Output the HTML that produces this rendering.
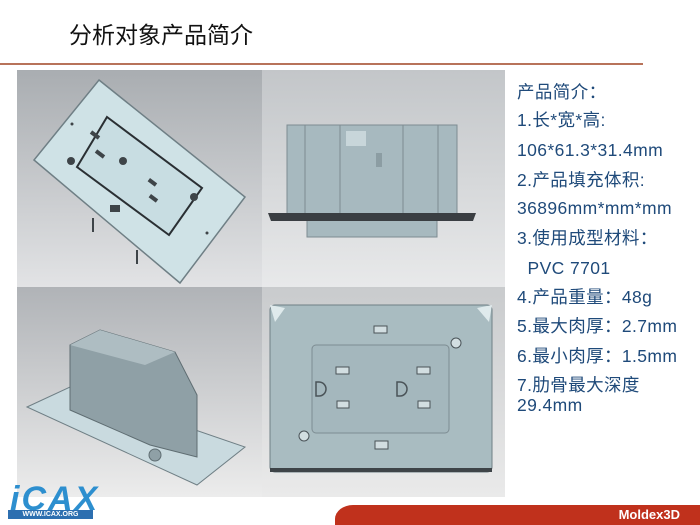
<!DOCTYPE html>
<html><head><meta charset="utf-8"><style>
html,body{margin:0;padding:0;width:700px;height:525px;overflow:hidden;background:#fff;font-family:"Liberation Sans","Noto Sans CJK SC",sans-serif}
.t{position:absolute;left:69px;top:20px;font-size:23px;line-height:30px;color:#111}
.rule{position:absolute;left:0;top:63px;width:643px;height:2px;background:#b8735a}
.txt{position:absolute;left:517px;color:#1f4a7a;font-size:17.5px;letter-spacing:0.4px;line-height:20px;white-space:nowrap}
.bar{position:absolute;left:335px;top:505px;width:365px;height:20px;background:#c0311c;border-top-left-radius:18px 14px}
.mx{position:absolute;right:20px;top:507px;color:#fff;font-size:13px;font-weight:bold}
</style></head><body>
<div class="t">分析对象产品简介</div>
<div class="rule"></div>
<svg style="position:absolute;left:0;top:0" width="700" height="525" viewBox="0 0 700 525">
<defs>
<linearGradient id="g1" x1="0" y1="0" x2="0" y2="1"><stop offset="0" stop-color="#a9adb1"/><stop offset="1" stop-color="#e2e3e5"/></linearGradient>
<linearGradient id="g2" x1="0" y1="0" x2="0" y2="1"><stop offset="0" stop-color="#c3c6c9"/><stop offset="1" stop-color="#e8e9ea"/></linearGradient>
<linearGradient id="g3" x1="0" y1="0" x2="0" y2="1"><stop offset="0" stop-color="#b0b3b7"/><stop offset="1" stop-color="#ececec"/></linearGradient>
<linearGradient id="g4" x1="0" y1="0" x2="0" y2="1"><stop offset="0" stop-color="#c9cbcd"/><stop offset="1" stop-color="#eaeaea"/></linearGradient>
</defs>
<rect x="17" y="70" width="245" height="217" fill="url(#g1)"/>
<rect x="262" y="70" width="243" height="217" fill="url(#g2)"/>
<rect x="17" y="287" width="245" height="210" fill="url(#g3)"/>
<rect x="262" y="287" width="243" height="210" fill="url(#g4)"/>
<polygon points="99,80 245,197 180,283 34,160" fill="#cfe2e6" stroke="#6f7f85" stroke-width="1.5"/>
<polygon points="107,117 202,188 169,235 77,167" fill="#c8dde2" stroke="#2a2f33" stroke-width="2"/>
<g fill="#3e4448">
<rect x="90" y="133" width="10" height="4" transform="rotate(37 95 135)"/>
<rect x="95" y="152" width="10" height="4" transform="rotate(37 100 154)"/>
<circle cx="123" cy="161" r="4"/>
<rect x="148" y="180" width="9" height="4" transform="rotate(37 152 182)"/>
<rect x="149" y="196" width="9" height="4" transform="rotate(37 153 198)"/>
<circle cx="71" cy="161" r="4"/><circle cx="194" cy="197" r="4"/>
<circle cx="72" cy="124" r="1.5"/><circle cx="207" cy="233" r="1.5"/>
<rect x="110" y="205" width="10" height="7"/>
<rect x="92" y="218" width="2" height="14"/><rect x="136" y="250" width="2" height="14"/>
</g>
<rect x="287" y="125" width="170" height="90" fill="#a7b9bf" stroke="#7d8c92"/>
<rect x="307" y="220" width="130" height="17" fill="#a7b9bf" stroke="#7d8c92"/>
<polygon points="268,213 476,213 473,221 271,221" fill="#3a3e42"/>
<rect x="346" y="131" width="20" height="15" fill="#c8d6da"/>
<rect x="376" y="153" width="6" height="14" fill="#8c9da3"/>
<line x1="305" y1="125" x2="305" y2="213" stroke="#7d8c92"/><line x1="340" y1="125" x2="340" y2="213" stroke="#7d8c92"/><line x1="403" y1="125" x2="403" y2="213" stroke="#7d8c92"/><line x1="438" y1="125" x2="438" y2="213" stroke="#7d8c92"/>
<polygon points="27,407 70,387 245,447 197,485" fill="#c9dadf" stroke="#6f7f85"/>
<polygon points="70,345 100,330 175,352 197,395 197,457 150,445 70,410" fill="#8fa0a6" stroke="#5f6d72"/>
<polygon points="70,345 100,330 175,352 145,365" fill="#aebdc2"/>
<circle cx="155" cy="455" r="6" fill="#8fa0a6" stroke="#5f6d72"/>
<rect x="270" y="305" width="222" height="167" rx="5" fill="#a9bcc1" stroke="#6f7f85"/>
<rect x="270" y="468" width="222" height="4" fill="#3e4448"/>
<rect x="312" y="345" width="137" height="88" rx="4" fill="#a4b7bd" stroke="#7d8c92"/>
<g fill="#d2dee1" stroke="#4a5358">
<rect x="336" y="367" width="13" height="7"/><rect x="417" y="367" width="13" height="7"/>
<rect x="337" y="401" width="12" height="7"/><rect x="418" y="401" width="12" height="7"/>
<rect x="374" y="326" width="13" height="7"/><rect x="375" y="441" width="13" height="8"/>
<circle cx="456" cy="343" r="5"/><circle cx="304" cy="436" r="5"/>
</g>
<g fill="none" stroke="#4a5358" stroke-width="1.5"><path d="M316,382 h3 a7,7 0 0 1 0,14 h-3z"/><path d="M397,382 h3 a7,7 0 0 1 0,14 h-3z"/></g>
<polygon points="270,305 285,308 275,322" fill="#dfeaec"/><polygon points="492,305 477,308 489,322" fill="#dfeaec"/>
</svg>
<div class="txt" style="top:82px">产品简介：</div>
<div class="txt" style="top:110px">1.长*宽*高:</div>
<div class="txt" style="top:140px">106*61.3*31.4mm</div>
<div class="txt" style="top:170px">2.产品填充体积:</div>
<div class="txt" style="top:198px">36896mm*mm*mm</div>
<div class="txt" style="top:228px">3.使用成型材料：</div>
<div class="txt" style="top:258px">&nbsp;&nbsp;PVC 7701</div>
<div class="txt" style="top:287px">4.产品重量：48g</div>
<div class="txt" style="top:316px">5.最大肉厚：2.7mm</div>
<div class="txt" style="top:346px">6.最小肉厚：1.5mm</div>
<div class="txt" style="top:375px">7.肋骨最大深度</div>
<div class="txt" style="top:395px">29.4mm</div>
<div style="position:absolute;left:10px;top:480px;font:italic bold 34px 'Liberation Sans',sans-serif;color:#2d8fcf;letter-spacing:2px">iCAX</div>
<div style="position:absolute;left:8px;top:510px;width:85px;height:9px;background:#2d6fb0;color:#fff;font:bold 7px 'Liberation Sans',sans-serif;text-align:center;line-height:9px">WWW.ICAX.ORG</div>
<div class="bar"></div>
<div class="mx">Moldex3D</div>
</body></html>
